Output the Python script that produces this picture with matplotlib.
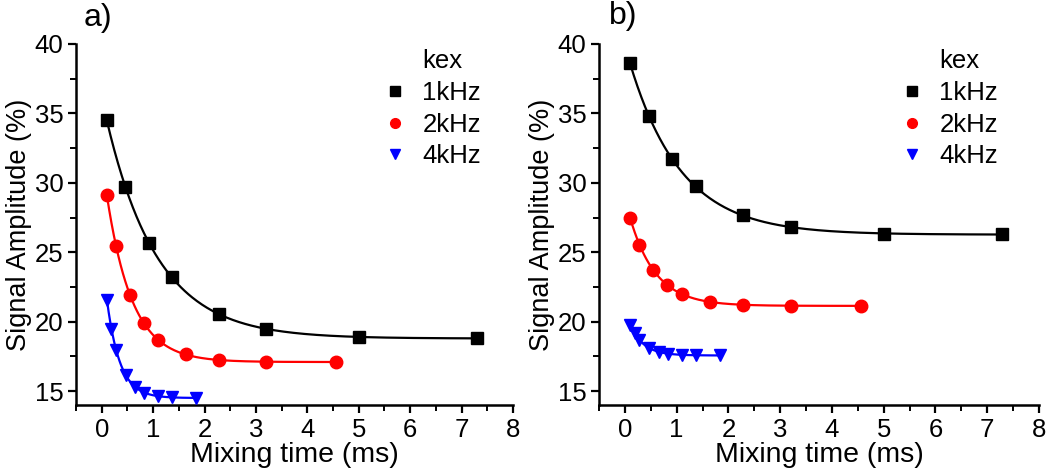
import numpy as np
import matplotlib
matplotlib.use("Agg")
import matplotlib.pyplot as plt
from matplotlib.lines import Line2D
from matplotlib.ticker import MultipleLocator

plt.rcParams['font.family'] = ['Liberation Sans', 'DejaVu Sans']

# mixing times (ms)
t_1k = [0.1, 0.46, 0.91, 1.37, 2.28, 3.2, 5.0, 7.29]
t_2k = [0.1, 0.28, 0.55, 0.82, 1.1, 1.64, 2.28, 3.2, 4.56]
t_4k = [0.1, 0.19, 0.28, 0.47, 0.65, 0.83, 1.1, 1.37, 1.84]

# panel a) signal amplitude (%)
a_1k = [34.5, 29.7, 25.7, 23.2, 20.55, 19.5, 18.9, 18.8]
a_2k = [29.1, 25.45, 21.9, 19.9, 18.7, 17.65, 17.25, 17.1, 17.1]
a_4k = [21.6, 19.5, 17.95, 16.15, 15.3, 14.9, 14.65, 14.55, 14.5]

# panel b) signal amplitude (%)
b_1k = [38.6, 34.85, 31.7, 29.75, 27.65, 26.8, 26.35, 26.3]
b_2k = [27.5, 25.55, 23.7, 22.65, 22.0, 21.45, 21.2, 21.15, 21.15]
b_4k = [19.8, 19.2, 18.7, 18.1, 17.8, 17.7, 17.6, 17.6, 17.6]

labels = ['1kHz', '2kHz', '4kHz']
colors = ['black', 'red', 'blue']
markers = ['s', 'o', 'v']
msizes = [8.5, 9, 8.5]


def exp_fit(x, y):
    # y = A + B*exp(-x/tau): scan tau, linear least squares for A, B
    x = np.asarray(x)
    y = np.asarray(y)
    best = None
    for tau in np.geomspace(0.05, 5, 600):
        M = np.column_stack([np.ones_like(x), np.exp(-x / tau)])
        coef = np.linalg.lstsq(M, y, rcond=None)[0]
        err = np.sum((M @ coef - y) ** 2)
        if best is None or err < best[0]:
            best = (err, tau, coef)
    _, tau, coef = best
    xs = np.linspace(x[0], x[-1], 300)
    return xs, coef[0] + coef[1] * np.exp(-xs / tau)


fig = plt.figure(figsize=(10.5, 4.71), dpi=100)
ax1 = fig.add_axes([0.0724, 0.140, 0.4162, 0.7666])
ax2 = fig.add_axes([0.5705, 0.140, 0.4190, 0.7666])

panels = [(ax1, [a_1k, a_2k, a_4k], 0.66), (ax2, [b_1k, b_2k, b_4k], 0.642)]
times = [t_1k, t_2k, t_4k]

for ax, series, leg_x in panels:
    for t, y, c, m, ms in zip(times, series, colors, markers, msizes):
        xs, ys = exp_fit(t, y)
        ax.plot(xs, ys, color=c, lw=1.6, zorder=2)
        ax.plot(t, y, ls='none', marker=m, color=c, ms=ms, zorder=3)

    ax.set_xlim(-0.5, 8)
    ax.set_ylim(14, 40)
    ax.xaxis.set_major_locator(MultipleLocator(1))
    ax.xaxis.set_minor_locator(MultipleLocator(0.5))
    ax.yaxis.set_major_locator(MultipleLocator(5))
    ax.yaxis.set_minor_locator(MultipleLocator(2.5))
    ax.spines['top'].set_visible(False)
    ax.spines['right'].set_visible(False)
    for s in ['left', 'bottom']:
        ax.spines[s].set_linewidth(1.8)
    ax.tick_params(which='major', direction='out', length=6, width=1.6,
                   labelsize=18.5, pad=3)
    ax.tick_params(which='minor', direction='out', length=4, width=1.4)
    ax.set_xlabel('Mixing time (ms)', fontsize=20.5, labelpad=0)
    ax.set_ylabel('Signal Amplitude (%)', fontsize=19.5, labelpad=2)

    handles = [Line2D([], [], ls='none')]
    for c, m in zip(colors, markers):
        handles.append(Line2D([], [], ls='none', marker=m, color=c, ms=7))
    ax.legend(handles, ['kex'] + labels, loc='upper left',
              bbox_to_anchor=(leg_x, 1.035), frameon=False, fontsize=18.5,
              handlelength=1.0, handletextpad=0.55, labelspacing=0.3,
              borderpad=0.2)

fig.text(0.080, 0.962, 'a)', fontsize=23, va='center', ha='left')
fig.text(0.580, 0.966, 'b)', fontsize=23, va='center', ha='left')

fig.savefig('out.png', dpi=100)
